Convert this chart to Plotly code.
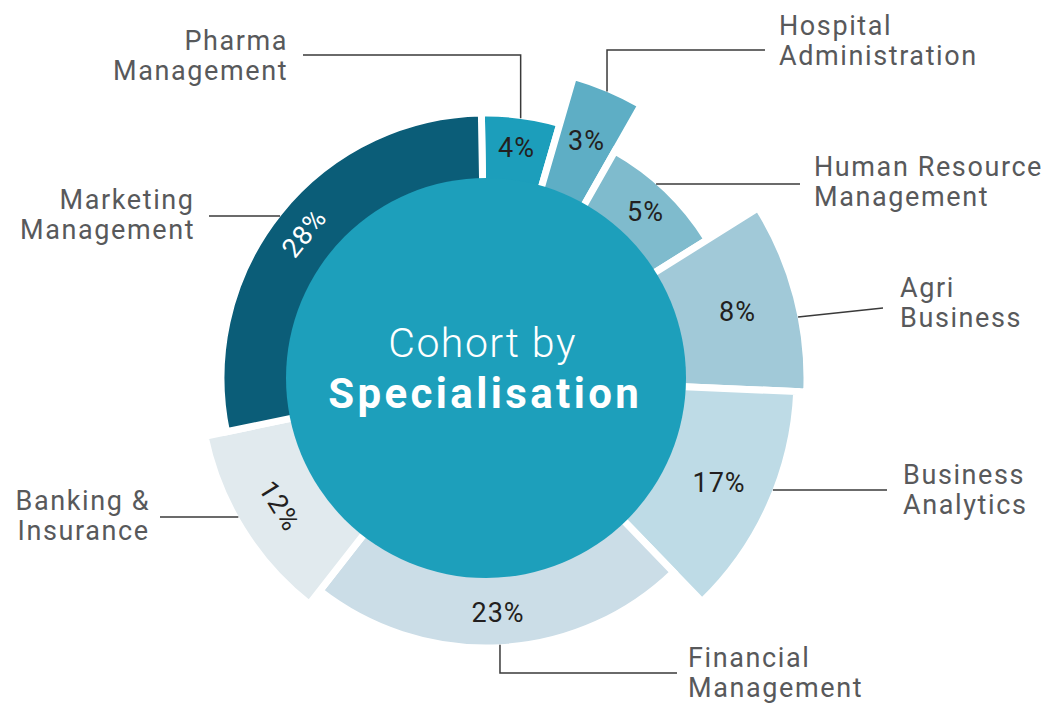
import math
import plotly.graph_objects as go

# ---------------- data ----------------
categories = [
    "Pharma Management", "Hospital Administration", "Human Resource Management",
    "Agri Business", "Business Analytics", "Financial Management",
    "Banking & Insurance", "Marketing Management",
]
label_lines = [
    ["Pharma", "Management"], ["Hospital", "Administration"],
    ["Human Resource", "Management"], ["Agri", "Business"],
    ["Business", "Analytics"], ["Financial", "Management"],
    ["Banking &", "Insurance"], ["Marketing", "Management"],
]
shares = [4, 3, 5, 8, 17, 23, 12, 28]                          # % labels
arc_deg = [17.2, 13.4, 28.4, 34.5, 43.5, 82.0, 40.3, 100.7]     # angular extent as drawn
reach = [265, 314, 261, 321, 311, 270, 287, 265]               # outer radius as drawn
start_angle = -1.0
hub_radius = 200

# ---------------- style ----------------
W, H = 1050, 706
CX, CY = 486, 378          # pixel centre of the polar area
RP = 325                   # radial range max == pixel radius of polar area
colors = ["#1c9ebb", "#5eaec5", "#7fbbcd", "#a1c9d8", "#bedbe6",
          "#cbdde7", "#e1eaee", "#0b5d78"]
hub_color = "#1d9fbb"
pct_colors = ["#231f20"] * 7 + ["#ffffff"]
rotate_label = [False, False, False, False, False, False, True, True]
text_grey = "#58595b"
line_col = "#3a3a3a"
FONT = "Roboto"

# label block placement (pixel layout), leader type
label_layout = [
    dict(x=290, y=56, side="right", lead=("v", 55, 303)),
    dict(x=777, y=41, side="left", lead=("v", 50, 765)),
    dict(x=812, y=182, side="left", lead=("h", 184, 800)),
    dict(x=898, y=303, side="left", lead=("s", 317, (883, 308))),
    dict(x=901, y=490, side="left", lead=("h", 490, 887)),
    dict(x=686, y=673, side="left", lead=("v", 673, 677)),
    dict(x=152, y=516, side="right", lead=("h", 517, 160)),
    dict(x=197, y=215, side="right", lead=("h", 216, 209)),
]

# ---------------- derived ----------------
centers = []
acc = start_angle
for a in arc_deg:
    centers.append(acc + a / 2)
    acc += a


def to_px(theta, r):
    t = math.radians(theta)
    return CX + r * math.sin(t), CY - r * math.cos(t)


def fx(x):
    return x / W


def fy(y):
    return 1 - y / H


fig = go.Figure()
fig.add_trace(go.Barpolar(
    r=reach, theta=centers, width=arc_deg,
    marker=dict(color=colors, line=dict(color="white", width=7)),
    text=categories, hoverinfo="text", showlegend=False,
))

annotations = []
shapes = []

# central disc
shapes.append(dict(type="circle", xref="paper", yref="paper",
                   x0=fx(CX - hub_radius), x1=fx(CX + hub_radius),
                   y0=fy(CY + hub_radius), y1=fy(CY - hub_radius),
                   fillcolor=hub_color, line=dict(width=0), layer="above"))

# percentage labels
for i, (s, th, r) in enumerate(zip(shares, centers, reach)):
    rr = (hub_radius + r) / 2
    x, y = to_px(th, rr)
    ang = 0
    if rotate_label[i]:
        ang = th % 360
        if ang > 180:
            ang -= 360
        if ang > 90:
            ang -= 180
        if ang < -90:
            ang += 180
    annotations.append(dict(
        x=fx(x), y=fy(y), xref="paper", yref="paper", text=f"{s}%",
        showarrow=False, textangle=ang, xanchor="center", yanchor="middle",
        font=dict(family=FONT, size=27, color=pct_colors[i])))

# category labels + leader lines
LS = 30
for i, lay in enumerate(label_layout):
    lines = label_lines[i]
    n = len(lines)
    for k, t in enumerate(lines):
        yy = lay["y"] + (k - (n - 1) / 2) * LS
        annotations.append(dict(
            x=fx(lay["x"]), y=fy(yy), xref="paper", yref="paper", text=t,
            showarrow=False, xanchor=lay["side"], yanchor="middle",
            align=lay["side"],
            font=dict(family=FONT, size=27, color=text_grey)))
    kind = lay["lead"][0]
    r_edge = reach[i] - 3
    if kind == "v":
        _, ylev, xend = lay["lead"]
        ax, ay = to_px(centers[i], r_edge)
        pts = [(ax, ay), (ax, ylev), (xend, ylev)]
    elif kind == "h":
        _, ylev, xend = lay["lead"]
        dx = math.sqrt(max(r_edge ** 2 - (ylev - CY) ** 2, 0))
        sx = CX + dx if xend > CX else CX - dx
        pts = [(sx, ylev), (xend, ylev)]
    else:
        _, ylev, (ex, ey) = lay["lead"]
        dx = math.sqrt(max(r_edge ** 2 - (ylev - CY) ** 2, 0))
        sx = CX + dx if ex > CX else CX - dx
        pts = [(sx, ylev), (ex, ey)]
    path = "M " + " L ".join(f"{fx(p[0]):.5f},{fy(p[1]):.5f}" for p in pts)
    shapes.append(dict(type="path", xref="paper", yref="paper", path=path,
                       line=dict(color=line_col, width=1.5), layer="above"))

# centre title
annotations.append(dict(x=fx(CX - 4), y=fy(343), xref="paper", yref="paper",
                        text="Cohort by", showarrow=False, xanchor="center",
                        yanchor="middle",
                        font=dict(family=FONT, size=41, color="white", weight=300)))
annotations.append(dict(x=fx(CX - 1), y=fy(393), xref="paper", yref="paper",
                        text="<b>Specialisation</b>", showarrow=False,
                        xanchor="center", yanchor="middle",
                        font=dict(family=FONT, size=42, color="white")))

fig.update_layout(
    width=W, height=H, margin=dict(l=0, r=0, t=0, b=0),
    paper_bgcolor="white", plot_bgcolor="white",
    polar=dict(
        domain=dict(x=[fx(CX - RP), fx(CX + RP)], y=[fy(CY + RP), fy(CY - RP)]),
        bgcolor="white",
        radialaxis=dict(range=[0, RP], visible=False, showgrid=False),
        angularaxis=dict(visible=False, rotation=90, direction="clockwise",
                         showgrid=False),
    ),
    shapes=shapes, annotations=annotations, showlegend=False,
)

post = """
document.body.style.margin='0';document.body.style.overflow='hidden';
document.querySelectorAll('text.annotation-text').forEach(function(el){
  var t = el.textContent;
  var ls = '1.6px';
  if (t.indexOf('Specialisation') >= 0) { ls = '3.4px'; }
  else if (t.indexOf('Cohort') >= 0) { ls = '1.5px'; }
  else if (t.indexOf('%') >= 0) { ls = '1px'; }
  el.style.letterSpacing = ls;
});
"""

fig.write_html("out.html", config={"displayModeBar": False}, post_script=post)
